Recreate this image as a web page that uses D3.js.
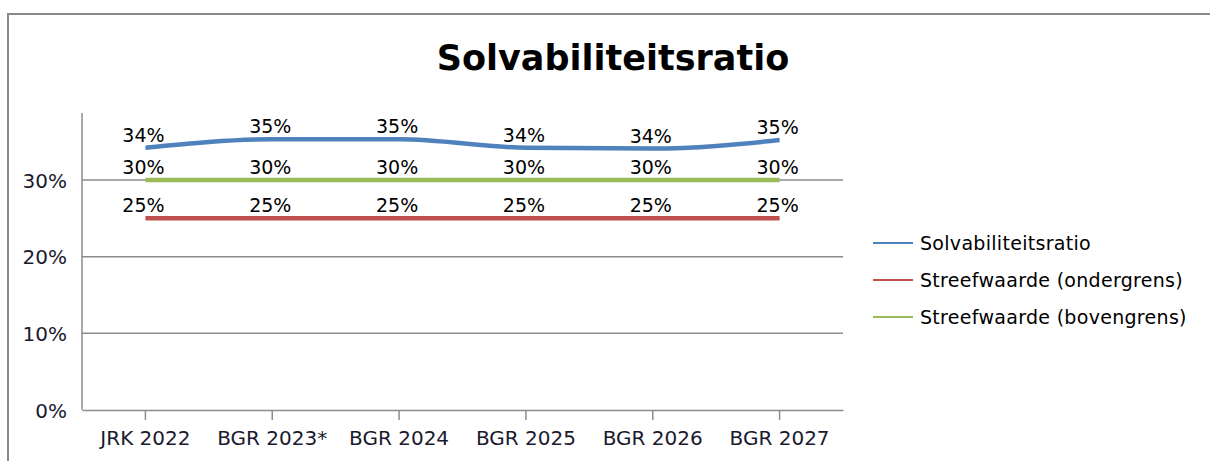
<!DOCTYPE html>
<html>
<head>
<meta charset="utf-8">
<script src="https://cdn.jsdelivr.net/npm/d3@7"></script>
<style>
  html, body { margin: 0; padding: 0; background: #fff; }
  svg { display: block; }
</style>
</head>
<body>
<div id="chart"></div>
<script>
// ─── Data ───
const categories = ["JRK 2022", "BGR 2023*", "BGR 2024", "BGR 2025", "BGR 2026", "BGR 2027"];
const solvabiliteit = [0.342, 0.353, 0.353, 0.342, 0.341, 0.352];
const ondergrens = [0.25, 0.25, 0.25, 0.25, 0.25, 0.25];
const bovengrens = [0.30, 0.30, 0.30, 0.30, 0.30, 0.30];
const yTicks = [0, 0.1, 0.2, 0.3];

const series = [
  { name: "Solvabiliteitsratio", values: solvabiliteit, color: "#4F81BD", smooth: true },
  { name: "Streefwaarde (ondergrens)", values: ondergrens, color: "#C0504D", smooth: false },
  { name: "Streefwaarde (bovengrens)", values: bovengrens, color: "#9BBB59", smooth: false },
];

const W = 1210, H = 461;
const FONT = "'DejaVu Sans', Verdana, sans-serif";
const plot = { left: 82, right: 843, top: 113, bottom: 410 };

const svg = d3.select("#chart").append("svg").attr("width", W).attr("height", H);

// outer frame
svg.append("rect")
  .attr("x", 8).attr("y", 14)
  .attr("width", W + 20).attr("height", H + 20)
  .attr("fill", "#fff")
  .attr("stroke", "#8a8a8a")
  .attr("stroke-width", 2);

// title
svg.append("text")
  .attr("x", 613).attr("y", 70)
  .attr("text-anchor", "middle")
  .style("font-family", FONT)
  .style("font-weight", "bold")
  .style("font-size", "35px")
  .attr("fill", "#000")
  .text("Solvabiliteitsratio");

// ── scales ──
const x = d3.scaleBand().domain(categories).range([plot.left, plot.right]);
const cx = (c) => x(c) + x.bandwidth() / 2;
const y = d3.scaleLinear().domain([0, 0.4]).range([plot.bottom, 103.3]);

// gridlines
svg.append("g")
  .selectAll("line")
  .data(yTicks.filter((t) => t > 0))
  .join("line")
  .attr("x1", plot.left).attr("x2", plot.right)
  .attr("y1", (d) => y(d)).attr("y2", (d) => y(d))
  .attr("stroke", "#8c8c8c")
  .attr("stroke-width", 1.5);

// y axis
const yAxis = d3.axisLeft(y).tickValues(yTicks).tickFormat(d3.format(".0%")).tickSize(0).tickPadding(15);
const gy = svg.append("g").attr("transform", `translate(${plot.left},0)`).call(yAxis);
gy.select(".domain").remove();
gy.selectAll("text")
  .style("font-family", FONT)
  .style("font-size", "20px")
  .attr("fill", "#1a1a2e")
  .attr("dy", "0.36em");
svg.append("line")
  .attr("x1", plot.left).attr("x2", plot.left)
  .attr("y1", plot.top).attr("y2", plot.bottom)
  .attr("stroke", "#8c8c8c").attr("stroke-width", 1.5);

// x axis
const xAxis = d3.axisBottom(x).tickSizeInner(10).tickSizeOuter(0).tickPadding(11);
const gx = svg.append("g").attr("transform", `translate(0,${plot.bottom})`).call(xAxis);
gx.select(".domain").attr("stroke", "#8c8c8c").attr("stroke-width", 1.5);
gx.selectAll(".tick line").attr("stroke", "#8c8c8c").attr("stroke-width", 1.5);
gx.selectAll("text")
  .style("font-family", FONT)
  .style("font-size", "20px")
  .attr("fill", "#1a1a2e");

// ── lines ──
series.forEach((s) => {
  const line = d3.line()
    .x((d, i) => cx(categories[i]))
    .y((d) => y(d))
    .curve(s.smooth ? d3.curveMonotoneX : d3.curveLinear);
  svg.append("path")
    .datum(s.values)
    .attr("d", line)
    .attr("fill", "none")
    .attr("stroke", s.color)
    .attr("stroke-width", 4.5);
});

// ── data labels ──
series.forEach((s) => {
  svg.append("g")
    .selectAll("text")
    .data(s.values)
    .join("text")
    .attr("x", (d, i) => cx(categories[i]) - 2)
    .attr("y", (d) => y(d) - 6)
    .attr("text-anchor", "middle")
    .style("font-family", FONT)
    .style("font-size", "19px")
    .attr("fill", "#000")
    .text((d) => d3.format(".0%")(d));
});

// ── legend ──
const legend = svg.append("g").attr("transform", "translate(873,243)");
const rows = legend.selectAll("g").data(series).join("g")
  .attr("transform", (d, i) => `translate(0,${i * 37})`);
rows.append("line")
  .attr("x1", 0).attr("x2", 40)
  .attr("stroke", (d) => d.color)
  .attr("stroke-width", 2);
rows.append("text")
  .attr("x", 47).attr("y", 0).attr("dy", "0.35em")
  .style("font-family", FONT)
  .style("font-size", "19px")
  .style("letter-spacing", "0.3px")
  .attr("fill", "#000")
  .text((d) => d.name);
</script>
</body>
</html>
